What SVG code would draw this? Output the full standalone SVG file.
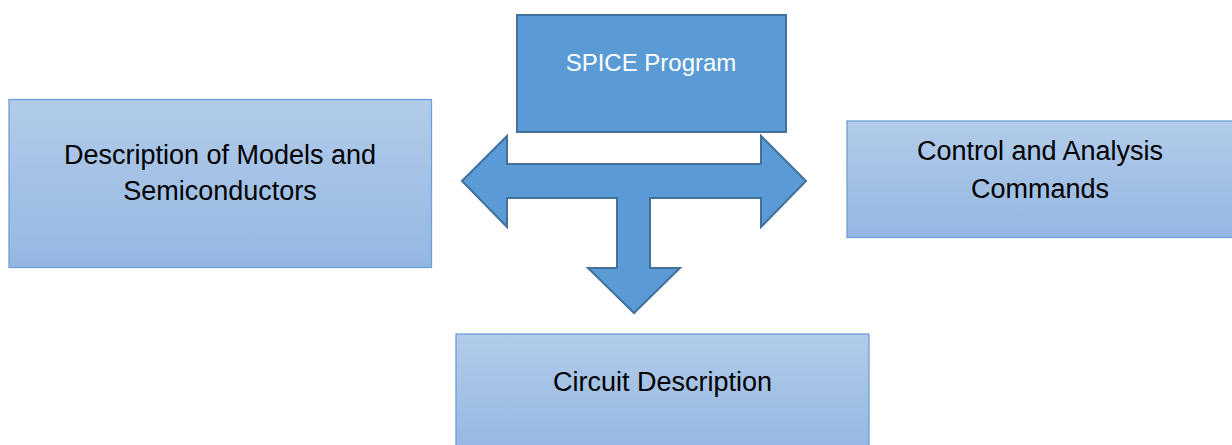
<svg xmlns="http://www.w3.org/2000/svg" width="1232" height="445" viewBox="0 0 1232 445">
<defs>
<linearGradient id="lg" x1="0" y1="0" x2="0" y2="1">
<stop offset="0" stop-color="#b2cbe9"/>
<stop offset="1" stop-color="#94b7e2"/>
</linearGradient>
<style>
.box{fill:url(#lg);stroke:#6d9fd8;stroke-width:1.3}
.main{fill:#5b9bd5;stroke:#41719c;stroke-width:2}
.t{font-family:"Liberation Sans",Arial,sans-serif;font-size:27px;fill:#000;text-anchor:middle}
.tw{font-family:"Liberation Sans",Arial,sans-serif;font-size:24px;fill:#fff;text-anchor:middle}
</style>
</defs>
<rect width="1232" height="445" fill="#fff"/>
<g id="connectors">
<path class="main" d="M462,181 L507,136 L507,164 L761,164 L761,136 L806,181 L761,227 L761,198 L650,198 L650,268 L680,268 L634,313 L588,268 L617,268 L617,198 L507,198 L507,227 Z"/>
</g>
<g id="spice">
<rect class="main" x="517" y="15" width="269" height="117"/>
<text class="tw" x="651" y="71">SPICE Program</text>
</g>
<g id="models">
<rect class="box" x="9" y="99.5" width="422.5" height="168"/>
<text class="t" x="220" y="164">Description of Models and</text>
<text class="t" x="220" y="200">Semiconductors</text>
</g>
<g id="control">
<rect class="box" x="847" y="121" width="390" height="116.5"/>
<text class="t" x="1040" y="160">Control and Analysis</text>
<text class="t" x="1040" y="198">Commands</text>
</g>
<g id="circuit">
<rect class="box" x="456" y="334" width="413" height="120"/>
<text class="t" x="662.5" y="391">Circuit Description</text>
</g>
</svg>
